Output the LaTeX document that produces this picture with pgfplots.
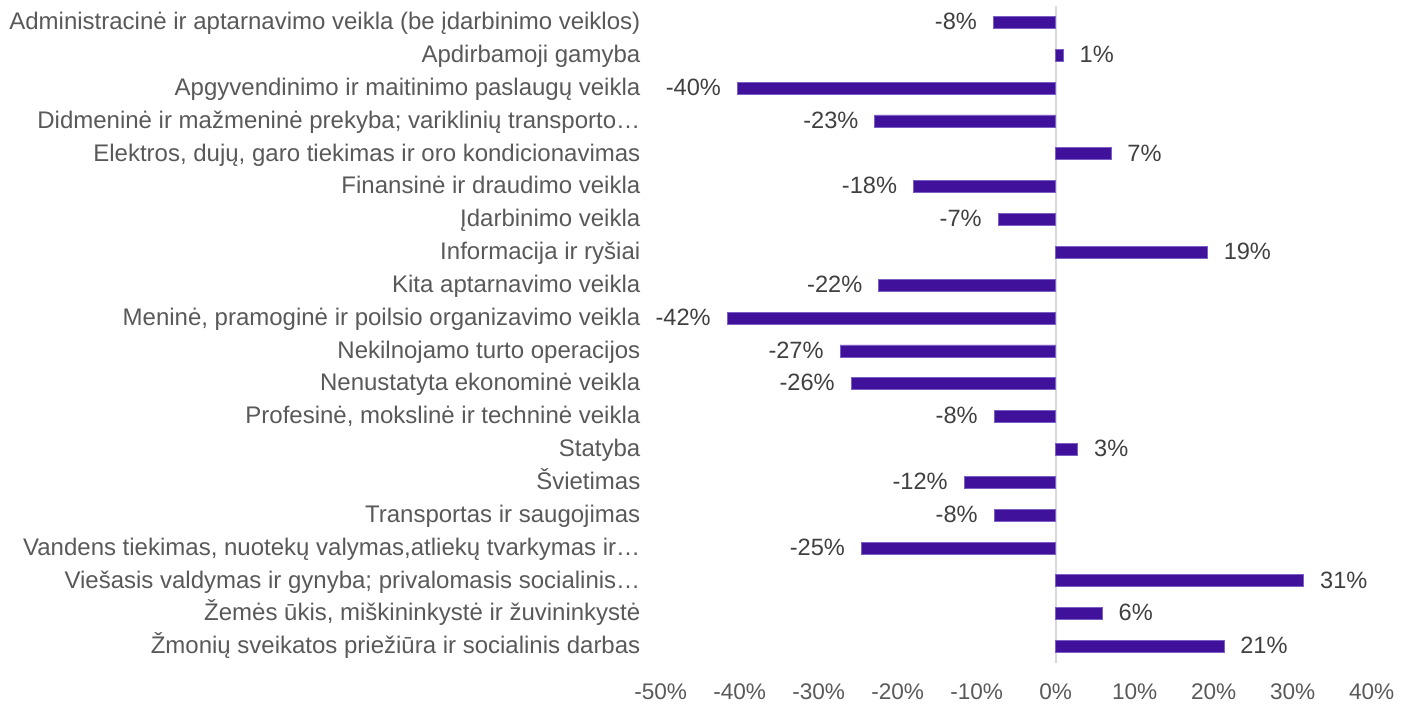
\documentclass[border=0pt]{standalone}
\usepackage{pgfplots}
\usepackage{pgfplotstable}
\pgfplotsset{compat=1.18}
\usepackage{fontspec}
\setmainfont{Liberation Sans}
\definecolor{barc}{HTML}{40129C}
\definecolor{baredge}{HTML}{7B5FC4}
\definecolor{valtxt}{HTML}{404040}
\definecolor{cattxt}{HTML}{595959}
\definecolor{ticktxt}{HTML}{595959}
\definecolor{zeroline}{HTML}{D9D9D9}
\pgfplotstableread{
idx val
0 -7.9
1 0.97
2 -40.3
3 -22.9
4 7.0
5 -18.0
6 -7.3
7 19.2
8 -22.4
9 -41.6
10 -27.3
11 -25.9
12 -7.8
13 2.8
14 -11.6
15 -7.8
16 -24.6
17 31.4
18 5.9
19 21.3
}\data
\begin{document}
\begin{tikzpicture}
\useasboundingbox (-330.35pt,-22pt) rectangle ++(707.5pt,353.5pt);
\begin{axis}[
  at={(0,0)}, anchor=south west,
  scale only axis, width=355.5pt, height=328.5pt,
  xbar, bar width=6pt,
  xmin=-50, xmax=40, ymin=-0.5, ymax=19.5,
  y dir=reverse,
  axis line style={draw=none},
  major tick length=0pt,
  xtick={-50,-40,-30,-20,-10,0,10,20,30,40},
  xticklabels={-50\%,-40\%,-30\%,-20\%,-10\%,0\%,10\%,20\%,30\%,40\%},
  xticklabel style={font=\fontsize{11.3pt}{13pt}\selectfont, text=ticktxt, inner sep=0pt, anchor=north},
  xticklabel shift=10pt,
  ytick={0,...,19},
  yticklabels={
    Administracinė ir aptarnavimo veikla (be įdarbinimo veiklos),
    Apdirbamoji gamyba,
    Apgyvendinimo ir maitinimo paslaugų veikla,
    Didmeninė ir mažmeninė prekyba; variklinių transporto…,
    {Elektros, dujų, garo tiekimas ir oro kondicionavimas},
    Finansinė ir draudimo veikla,
    Įdarbinimo veikla,
    Informacija ir ryšiai,
    Kita aptarnavimo veikla,
    {Meninė, pramoginė ir poilsio organizavimo veikla},
    Nekilnojamo turto operacijos,
    Nenustatyta ekonominė veikla,
    {Profesinė, mokslinė ir techninė veikla},
    Statyba,
    Švietimas,
    Transportas ir saugojimas,
    {Vandens tiekimas, nuotekų valymas,atliekų tvarkymas ir…},
    Viešasis valdymas ir gynyba; privalomasis socialinis…,
    {Žemės ūkis, miškininkystė ir žuvininkystė},
    Žmonių sveikatos priežiūra ir socialinis darbas},
  yticklabel style={font=\fontsize{12.0pt}{14pt}\selectfont, text=cattxt, inner sep=0pt, anchor=east, text height=0.9em, text depth=0.18em},
  yticklabel shift=10pt,
  extra x ticks={0},
  extra x tick labels={},
  extra x tick style={grid=major, major grid style={draw=zeroline, line width=1pt}},
  point meta=x,
  nodes near coords={\pgfmathprintnumber[fixed,precision=0,assume math mode=true]{\pgfplotspointmeta}\%},
  nodes near coords style={font=\fontsize{11.8pt}{13pt}\selectfont, text=valtxt, inner xsep=8pt, inner ysep=0pt, text height=0.9em, text depth=0.18em},
  clip=false,
]
\addplot[fill=barc, draw=baredge, line width=0.4pt] table[x=val, y=idx] {\data};
\end{axis}
\end{tikzpicture}
\end{document}
